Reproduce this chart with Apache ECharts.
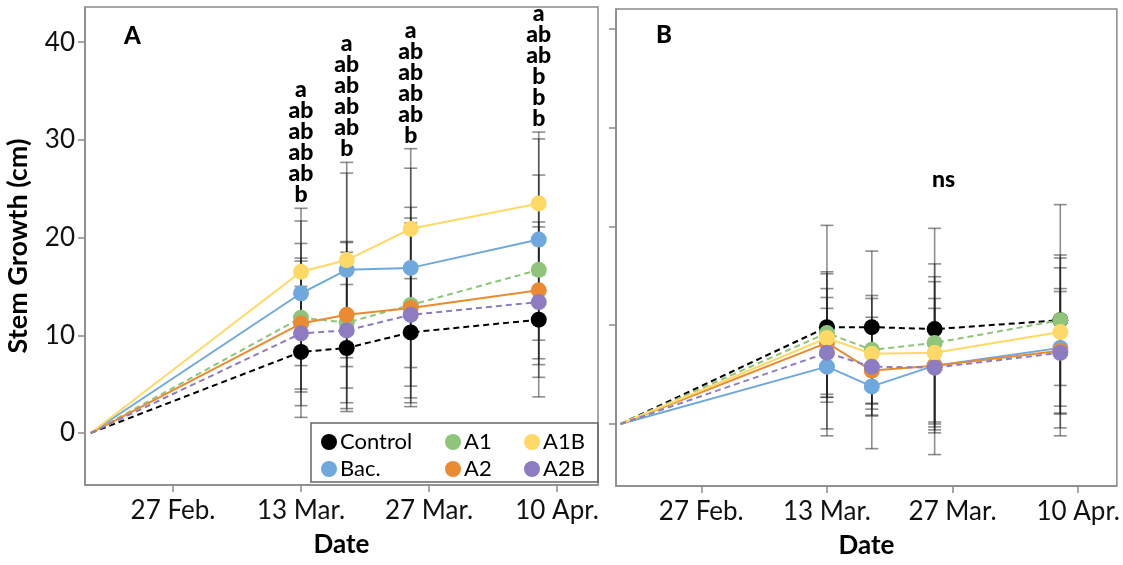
<!DOCTYPE html>
<html><head><meta charset="utf-8">
<script src="https://cdn.jsdelivr.net/npm/echarts@6.0.0/dist/echarts.min.js"></script>
<style>html,body{margin:0;padding:0;background:#fff}#c{width:1123px;height:565px}</style>
</head><body><div id="c"></div>
<script>
const dates = ['2019-02-18','2019-03-13','2019-03-18','2019-03-25','2019-04-08'];
const tickDates = ['2019-02-27','2019-03-13','2019-03-27','2019-04-10'];
const tickLabels = ['27 Feb.','13 Mar.','27 Mar.','10 Apr.'];
const yTicks = [0,10,20,30,40];
const seriesNames = ['Control','Bac.','A1','A2','A1B','A2B'];
const seriesColors = ['#000000','#6fa8dc','#8ec57a','#ea8a31','#ffd966','#8e7cc3'];
const seriesDashed = [true,false,true,false,false,true];

// Panel A means and SD
const aControl = [0, 8.3, 8.7, 10.3, 11.6];
const aBac     = [0, 14.3, 16.7, 16.9, 19.8];
const aA1      = [0, 11.8, 11.3, 13.1, 16.7];
const aA2      = [0, 11.2, 12.1, 12.8, 14.6];
const aA1B     = [0, 16.5, 17.7, 20.9, 23.5];
const aA2B     = [0, 10.2, 10.5, 12.1, 13.4];
const aControlSd = [0, 6.7, 6.5, 5.5, 7.9];
const aBacSd     = [0, 7.4, 9.9, 10.2, 10.3];
const aA1Sd      = [0, 7.6, 8.2, 10.0, 9.7];
const aA2Sd      = [0, 6.7, 7.5, 9.2, 7.0];
const aA1BSd     = [0, 6.5, 10.0, 8.2, 7.3];
const aA2BSd     = [0, 7.4, 8.0, 9.4, 7.7];

// Panel B means and SD
const bControl = [0, 9.8, 9.8, 9.6, 10.5];
const bBac     = [0, 5.8, 3.8, 5.9, 7.7];
const bA1      = [0, 9.2, 7.5, 8.2, 10.5];
const bA2      = [0, 8.2, 5.4, 5.9, 7.4];
const bA1B     = [0, 8.7, 7.1, 7.2, 9.3];
const bA2B     = [0, 7.2, 5.8, 5.7, 7.2];
const bControlSd = [0, 10.3, 7.7, 10.2, 11.7];
const bBacSd     = [0, 7.0, 6.3, 9.0, 8.1];
const bA1Sd      = [0, 6.2, 5.5, 8.0, 6.6];
const bA2Sd      = [0, 5.5, 4.5, 6.8, 6.3];
const bA1BSd     = [0, 6.5, 5.6, 7.2, 7.5];
const bA2BSd     = [0, 4.5, 5.0, 6.0, 6.2];

// Significance letters (panel A), per date index 1..4
const lettersA = [
  null,
  ['a','ab','ab','ab','ab','b'],
  ['a','ab','ab','ab','ab','b'],
  ['a','ab','ab','ab','ab','b'],
  ['a','ab','ab','b','b','b']
];
const nsLabel = 'ns';
const nsDate = '2019-03-26';
const nsValue = 24.7;

const ts = s => { const [y,m,d] = s.split('-').map(Number); return Date.UTC(y, m-1, d); };
const DAY = 86400000;
const meansA = [aControl,aBac,aA1,aA2,aA1B,aA2B];
const sdsA = [aControlSd,aBacSd,aA1Sd,aA2Sd,aA1BSd,aA2BSd];
const meansB = [bControl,bBac,bA1,bA2,bA1B,bA2B];
const sdsB = [bControlSd,bBacSd,bA1Sd,bA2Sd,bA1BSd,bA2BSd];

const FONT = 'Lato';
const tickTs = tickDates.map(ts);

function xAxisFor(gi, minOff, maxOff) {
  return {
    type: 'value', gridIndex: gi, scale: true,
    min: tickTs[0] - minOff*DAY, max: tickTs[3] + maxOff*DAY,
    name: 'Date', nameLocation: 'middle', nameGap: 47,
    nameTextStyle: {fontFamily: FONT, fontWeight: 'bold', fontSize: 26, color: '#000'},
    axisLine: {show: true, onZero: false, lineStyle: {color: '#8a8a8a', width: 1.5}},
    axisTick: {show: true, inside: false, length: 7, lineStyle: {color: '#8a8a8a', width: 1.5}, customValues: tickTs},
    axisLabel: {show: true, margin: 13, fontFamily: FONT, fontSize: 26, color: '#111',
      customValues: tickTs,
      formatter: v => { const i = tickTs.indexOf(v); return i >= 0 ? tickLabels[i] : ''; }},
    splitLine: {show: false}
  };
}
function yAxisFor(gi, mn, mx, showLabels) {
  return {
    type: 'value', gridIndex: gi, min: mn, max: mx,
    name: showLabels ? 'Stem Growth (cm)' : '', nameLocation: 'middle', nameGap: 53,
    nameTextStyle: {fontFamily: FONT, fontWeight: 'bold', fontSize: 27, color: '#000'},
    axisLine: {show: true, onZero: false, lineStyle: {color: '#8a8a8a', width: 1.5}},
    axisTick: {show: true, length: 7, lineStyle: {color: '#8a8a8a', width: 1.5}, customValues: yTicks},
    axisLabel: {show: showLabels, margin: 10, fontFamily: FONT, fontSize: 26, color: '#111', customValues: yTicks},
    splitLine: {show: false}
  };
}

function errRender(params, api) {
  const x = api.value(0), lo = api.value(1), hi = api.value(2);
  if (hi - lo <= 0) return null;
  const p1 = api.coord([x, lo]), p2 = api.coord([x, hi]);
  const w = 6.5;
  const st = {stroke: 'rgba(30,30,30,0.5)', lineWidth: 1.6};
  return {type: 'group', children: [
    {type: 'line', shape: {x1: p1[0], y1: p1[1], x2: p2[0], y2: p2[1]}, style: st},
    {type: 'line', shape: {x1: p1[0]-w, y1: p1[1], x2: p1[0]+w, y2: p1[1]}, style: st},
    {type: 'line', shape: {x1: p2[0]-w, y1: p2[1], x2: p2[0]+w, y2: p2[1]}, style: st}
  ]};
}

const series = [];
[[meansA, sdsA, 0], [meansB, sdsB, 1]].forEach(([means, sds, gi]) => {
  means.forEach((m, si) => {
    series.push({
      type: 'custom', xAxisIndex: gi, yAxisIndex: gi, z: 1, silent: true,
      renderItem: errRender, encode: {x: 0, y: [1, 2]},
      data: dates.map((d, i) => [ts(d), m[i] - sds[si][i], m[i] + sds[si][i]])
    });
  });
  means.forEach((m, si) => {
    series.push({
      type: 'line', name: seriesNames[si], xAxisIndex: gi, yAxisIndex: gi, z: 3 + si,
      data: dates.map((d, i) => [ts(d), m[i]]),
      symbol: 'circle',
      symbolSize: (v, p) => p.dataIndex === 0 ? 0 : 16,
      showSymbol: true,
      itemStyle: {color: seriesColors[si]},
      lineStyle: {color: seriesColors[si], width: 2, type: seriesDashed[si] ? [6, 4] : 'solid'},
      emphasis: {disabled: true}
    });
  });
});

const letterLabel = {show: true, position: 'top', distance: 3, fontFamily: FONT, fontWeight: 900, fontSize: 23, lineHeight: 21, color: '#000', opacity: 1, textBorderWidth: 0};
// letters: anchored at the highest error-bar top for each date
const letterData = [];
for (let i = 1; i < dates.length; i++) {
  if (!lettersA[i]) continue;
  let top = -Infinity;
  meansA.forEach((m, si) => { top = Math.max(top, m[i] + sdsA[si][i]); });
  letterData.push({value: [ts(dates[i]), top], txt: lettersA[i].join('\n')});
}
series.push({
  type: 'scatter', xAxisIndex: 0, yAxisIndex: 0, symbolSize: 0, z: 10, silent: true,
  itemStyle: {color: '#000', opacity: 1},
  data: letterData.map(d => ({value: d.value, label: Object.assign({}, letterLabel, {formatter: d.txt})})),
  label: letterLabel
});
series.push({
  type: 'scatter', xAxisIndex: 1, yAxisIndex: 1, symbolSize: 0, z: 10, silent: true,
  itemStyle: {color: '#000', opacity: 1},
  data: [{value: [ts(nsDate), nsValue], label: {formatter: nsLabel}}],
  label: {show: true, position: 'inside', fontFamily: FONT, fontWeight: 900, fontSize: 23, color: '#000', textBorderWidth: 0}
});

const legendBase = {
  orient: 'vertical', icon: 'circle', itemWidth: 16, itemHeight: 16, itemGap: 5, padding: 0,
  top: 431, textStyle: {fontFamily: FONT, fontSize: 22, color: '#000', padding: [0,0,0,-2]},
  selectedMode: false
};

const option = {
  animation: false,
  backgroundColor: '#fff',
  title: [
    {text: 'A', left: 124, top: 24, padding: 0, textStyle: {fontFamily: FONT, fontWeight: 900, fontSize: 24, color: '#000'}},
    {text: 'B', left: 656, top: 23, padding: 0, textStyle: {fontFamily: FONT, fontWeight: 900, fontSize: 24, color: '#000'}}
  ],
  grid: [
    {left: 85, top: 7, width: 513, height: 478, show: true, borderColor: '#8a8a8a', borderWidth: 1.5, backgroundColor: 'transparent'},
    {left: 616, top: 9, width: 505, height: 477, show: true, borderColor: '#8a8a8a', borderWidth: 1.5, backgroundColor: 'transparent'}
  ],
  xAxis: [xAxisFor(0, 9.62, 4.48), xAxisFor(1, 9.5, 4.3)],
  yAxis: [yAxisFor(0, -5.32, 43.6, true), yAxisFor(1, -6.28, 42.0, false)],
  legend: [
    Object.assign({}, legendBase, {left: 321, data: ['Control','Bac.']}),
    Object.assign({}, legendBase, {left: 445, data: ['A1','A2']}),
    Object.assign({}, legendBase, {left: 524, data: ['A1B','A2B']})
  ],
  graphic: [
    {type: 'rect', shape: {x: 311, y: 423, width: 287, height: 59}, style: {fill: 'none', stroke: '#666', lineWidth: 1.5}, z: 100}
  ],
  series: series
};
const chart = echarts.init(document.getElementById('c'), null, {renderer: 'canvas'});
chart.setOption(option);
</script></body></html>
